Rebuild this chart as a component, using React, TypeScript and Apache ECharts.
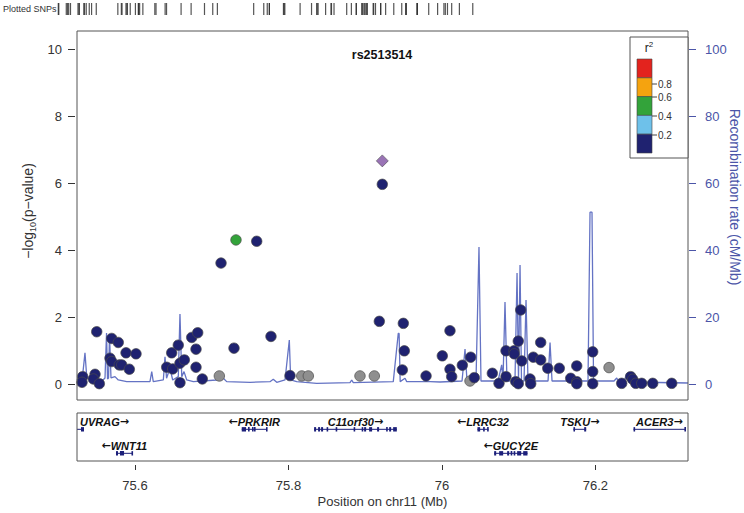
import React, { useEffect, useRef } from "react";
import * as echarts from "echarts";

const FONT = '"Liberation Sans", Arial, Helvetica, sans-serif';
const X_MIN = 75.5244;
const X_MAX = 76.3207;
const X_TICKS = [75.6, 75.8, 76.0, 76.2];
const Y_TICKS_MAX = 10;
const RECOMB_MAX = 100;
const TITLE = "rs2513514";

// SNP positions (Mb), -log10(p) and r2 (null = no LD info)
const SNP_POS = [
  75.5318, 75.5309, 75.5501, 75.5479, 75.5457, 75.5535, 75.5696, 75.5782, 75.5674, 75.5696,
  75.5795, 75.5827, 75.5883, 75.6013, 75.5926, 75.6478, 75.6564, 75.6413, 75.6491, 75.6586,
  75.6643, 75.6586, 75.6739, 75.6817, 75.6795, 75.6795, 75.6877, 75.7099, 75.7121, 75.7316,
  75.729, 75.7586, 75.7772, 75.802, 75.8173, 75.8259, 75.8932, 75.9119, 75.9223, 75.9184,
  75.9497, 75.951, 75.9484, 75.9793, 76.0105, 76.0005, 76.0105, 76.0127, 76.0266, 76.0375,
  76.0366, 76.0422, 76.0657, 76.0744, 76.0835, 76.0835, 76.0939, 76.0943, 76.0995, 76.1027,
  76.104, 76.0962, 76.0995, 76.1148, 76.1157, 76.1191, 76.1287, 76.1287, 76.1379, 76.153,
  76.1678, 76.1757, 76.1757, 76.1757, 76.1965, 76.1965, 76.1965, 76.2178, 76.2343, 76.246,
  76.2486, 76.2526, 76.2604, 76.2747, 76.2995,
];
const SNP_LOGP = [
  0.22, 0.05, 1.56, 0.29, 0.15, 0.01, 1.36, 1.24, 0.77, 0.67,
  0.57, 0.57, 0.93, 0.9, 0.44, 0.93, 1.16, 0.5, 0.45, 0.62,
  0.72, 0.04, 1.39, 1.53, 1.04, 0.5, 0.15, 0.24, 3.61, 4.3,
  1.07, 4.26, 1.42, 0.25, 0.24, 0.24, 0.24, 0.24, 5.96, 1.87,
  1.81, 0.99, 0.42, 0.24, 1.59, 0.84, 0.44, 0.22, 0.56, 0.8,
  0.09, 0.19, 0.32, 0.02, 0.22, 0.99, 0.99, 0.9, 1.28, 2.21,
  0.69, 0.07, 0.01, 0.15, 0.01, 0.8, 1.24, 0.72, 0.47, 0.47,
  0.17, 0.54, 0.07, 0.01, 0.96, 0.37, 0.01, 0.49, 0.02, 0.22,
  0.14, 0.02, 0.02, 0.02, 0.02,
];
const SNP_R2: (number | null)[] = [
  0.05, 0.05, 0.05, 0.05, 0.05, 0.05, 0.05, 0.05, 0.05, 0.05,
  0.05, 0.05, 0.05, 0.05, 0.05, 0.05, 0.05, 0.05, 0.05, 0.05,
  0.05, 0.05, 0.05, 0.05, 0.05, 0.05, 0.05, null, 0.05, 0.5,
  0.05, 0.05, 0.05, 0.05, null, null, null, null, 0.05, 0.05,
  0.05, 0.05, 0.05, 0.05, 0.05, 0.05, 0.05, 0.05, 0.05, 0.05,
  null, 0.05, 0.05, 0.05, 0.05, 0.05, 0.05, 0.05, 0.05, 0.05,
  0.05, 0.05, 0.05, 0.05, 0.05, 0.05, 0.05, 0.05, 0.05, 0.05,
  0.05, 0.05, 0.05, 0.05, 0.05, 0.05, 0.05, null, 0.05, 0.05,
  0.05, 0.05, 0.05, 0.05, 0.05,
];
const LEAD_POS = 75.9223;
const LEAD_LOGP = 6.66;

// recombination rate (cM/Mb)
const RECOMB_POS = [
  75.5244, 75.5283, 75.5322, 75.5348, 75.5371, 75.5414, 75.5479, 75.5583, 75.5609, 75.5629,
  75.5642, 75.5655, 75.5668, 75.5687, 75.5739, 75.5782, 75.5892, 75.6195, 75.6218, 75.6238,
  75.6369, 75.6391, 75.6411, 75.6456, 75.6491, 75.6564, 75.6586, 75.6609, 75.6639, 75.6674,
  75.676, 75.7065, 75.7151, 75.7195, 75.7499, 75.7759, 75.7802, 75.7847, 75.7955, 75.8011,
  75.8029, 75.8107, 75.8368, 75.8802, 75.8824, 75.8845, 75.9366, 75.9431, 75.9442, 75.9456,
  75.9519, 75.9541, 75.9845, 75.9975, 76.0262, 76.0301, 76.0327, 76.0444, 76.0483, 76.0509,
  76.0731, 76.0779, 76.0796, 76.0822, 76.0848, 76.0952, 76.0979, 76.0998, 76.1018, 76.1037,
  76.107, 76.1096, 76.1122, 76.1383, 76.1409, 76.1435, 76.1904, 76.193, 76.1956, 76.1976,
  76.2243, 76.2278, 76.2308, 76.2373, 76.2408, 76.2438, 76.3207,
];
const RECOMB_RATE = [
  1.2, 2.4, 3.6, 9.3, 2.1, 1.2, 0.7, 1.2, 1.8, 15.2,
  1.5, 1.8, 14.6, 1.8, 2.2, 1.2, 0.7, 0.7, 3.7, 0.7,
  1.2, 8.1, 1.7, 4.7, 1.2, 2.2, 20.9, 2.2, 3.7, 1.2,
  0.7, 1.2, 1.7, 0.7, 0.5, 0.7, 1.4, 0.5, 1.2, 13.1,
  1.2, 0.7, 0.2, 0.4, 1.2, 0.4, 0.7, 15.1, 15.1, 0.7,
  1.7, 0.7, 0.7, 0.6, 0.9, 10.4, 0.9, 0.9, 40.9, 0.9,
  0.9, 5.7, 0.9, 24.5, 0.9, 0.9, 33.1, 0.9, 35.5, 0.9,
  0.9, 25.1, 0.9, 0.9, 12.4, 0.9, 0.9, 51.3, 51.3, 0.9,
  0.9, 1.8, 0.6, 0.6, 3.2, 0.6, 0.3,
];

// genes
const GENE_NAMES = ["UVRAG", "WNT11", "PRKRIR", "C11orf30", "LRRC32", "GUCY2E", "TSKU", "ACER3"];
const GENE_START = [75.5, 75.5752, 75.7391, 75.8334, 76.0463, 76.0681, 76.1714, 76.2497];
const GENE_END = [75.5335, 75.597, 75.7716, 75.9412, 76.0606, 76.1115, 76.188, 76.3171];
const GENE_STRAND = [1, -1, -1, 1, -1, -1, 1, 1];
const GENE_ROW = [1, 2, 1, 1, 1, 2, 1, 1];
const GENE_EXONS: number[][][] = [
  [[75.5296, 75.5335]],
  [[75.5752, 75.5778], [75.5804, 75.5857], [75.5954, 75.597]],
  [[75.7391, 75.7447], [75.7473, 75.7486], [75.7525, 75.7538], [75.7551, 75.7564], [75.7707, 75.7716]],
  [[75.8334, 75.836], [75.8386, 75.8412], [75.8425, 75.8451], [75.8497, 75.8509], [75.8615, 75.8627],
   [75.8849, 75.8861], [75.8954, 75.8966], [75.8986, 75.9012], [75.9051, 75.909], [75.9155, 75.9181],
   [75.9273, 75.9286], [75.9312, 75.9338], [75.9364, 75.9412]],
  [[76.0463, 76.0498], [76.0537, 76.055], [76.0589, 76.0606]],
  [[76.0681, 76.0707], [76.0746, 76.0798], [76.085, 76.0876], [76.0896, 76.0906], [76.0935, 76.0945],
   [76.098, 76.1033], [76.1059, 76.1115]],
  [[76.1714, 76.1727], [76.1854, 76.188]],
  [[76.2497, 76.2505], [76.316, 76.3171]],
];

const R2_LABELS = ["0.8", "0.6", "0.4", "0.2"];
const R2_COLORS = ["#1f2270", "#6ec1ea", "#33a33a", "#f5a30f", "#e3231e"]; // low -> high
const NA_COLOR = "#8f8f8f";
const LEAD_COLOR = "#7f50a3";
const RECOMB_COLOR = "#6473c4";
const RIGHT_AXIS_COLOR = "#4b55a8";
const GENE_COLOR = "#1c1f7a";

function r2Color(r: number | null) {
  if (r === null) return NA_COLOR;
  if (r >= 0.8) return R2_COLORS[4];
  if (r >= 0.6) return R2_COLORS[3];
  if (r >= 0.4) return R2_COLORS[2];
  if (r >= 0.2) return R2_COLORS[1];
  return R2_COLORS[0];
}

function buildOption() {
  const snpData = SNP_POS.map((p, i) => ({
    value: [p, SNP_LOGP[i]],
    itemStyle: { color: r2Color(SNP_R2[i]) },
  }));
  const rugData = SNP_POS.concat([LEAD_POS]).map((p) => [p, 0.5]);
  const recombData = RECOMB_POS.map((p, i) => [p, RECOMB_RATE[i]]);
  const geneData = GENE_NAMES.map((n, i) => [GENE_START[i], GENE_END[i], GENE_ROW[i], GENE_STRAND[i], i]);

  // legend graphics
  const lgX = 630, lgY = 37, lgW = 58, lgH = 121;
  const barX = 637, barW = 15, barTop = 59, barBottom = 153;
  const bh = (barBottom - barTop) / 5;
  const legend: any[] = [
    { type: "rect", z: 100, shape: { x: lgX, y: lgY, width: lgW, height: lgH }, style: { fill: "#fff", stroke: "#555", lineWidth: 1 } },
    { type: "text", z: 101, x: 649, y: 48, style: { text: "{a|r}{b|2}", rich: { a: { fontSize: 12, fontFamily: FONT, fill: "#222", lineHeight: 15 }, b: { fontSize: 8, fontFamily: FONT, fill: "#222", verticalAlign: "top", lineHeight: 8 } }, align: "center", verticalAlign: "middle" } },
  ];
  for (let k = 0; k < 5; k++) {
    legend.push({
      type: "rect", z: 101,
      shape: { x: barX, y: barTop + k * bh, width: barW, height: bh },
      style: { fill: R2_COLORS[4 - k], stroke: "#444", lineWidth: 0.6 },
    });
  }
  const labelYs = [84, 97, 116, 135];
  R2_LABELS.forEach((t, k) => {
    legend.push({ type: "line", z: 101, shape: { x1: barX + barW, y1: labelYs[k], x2: barX + barW + 5, y2: labelYs[k] }, style: { stroke: "#444", lineWidth: 1 } });
    legend.push({ type: "text", z: 101, x: barX + barW + 6, y: labelYs[k], style: { text: t, fontSize: 10, lineHeight: 11, fontFamily: FONT, fill: "#333", align: "left", verticalAlign: "middle" } });
  });

  return {
    animation: false,
    backgroundColor: "#fff",
    textStyle: { fontFamily: FONT },
    grid: [
      { left: 77, top: 49, width: 611, height: 335 },
      { left: 77, top: 413, width: 611, height: 48 },
      { left: 54.8, top: 3, width: 429.4, height: 12 },
    ],
    xAxis: [
      { gridIndex: 0, type: "value", min: X_MIN, max: X_MAX, show: false },
      {
        gridIndex: 1, type: "value", min: X_MIN, max: X_MAX, position: "bottom", offset: 4,
        axisLine: { show: false },
        axisTick: { show: true, length: 5, customValues: X_TICKS, lineStyle: { color: "#333" } },
        axisLabel: { show: true, customValues: X_TICKS, margin: 14, fontSize: 13, color: "#333", fontFamily: FONT },
        splitLine: { show: false },
        name: "Position on chr11 (Mb)", nameLocation: "middle", nameGap: 30,
        nameTextStyle: { fontSize: 13, color: "#333", fontFamily: FONT },
      },
      { gridIndex: 2, type: "value", min: X_MIN, max: X_MAX, show: false },
    ],
    yAxis: [
      {
        gridIndex: 0, type: "value", min: 0, max: Y_TICKS_MAX, interval: 2, position: "left", offset: 2,
        axisLine: { show: false },
        axisTick: { show: true, length: 7, lineStyle: { color: "#333" } },
        axisLabel: { margin: 13, fontSize: 13, color: "#333", fontFamily: FONT },
        splitLine: { show: false },
      },
      {
        gridIndex: 0, type: "value", min: 0, max: RECOMB_MAX, interval: 20, position: "right", offset: 1,
        axisLine: { show: false },
        axisTick: { show: true, length: 7, lineStyle: { color: RIGHT_AXIS_COLOR } },
        axisLabel: { margin: 16, fontSize: 13, color: RIGHT_AXIS_COLOR, fontFamily: FONT },
        splitLine: { show: false },
      },
      { gridIndex: 1, type: "value", min: 0.32, max: 2.32, inverse: true, show: false },
      { gridIndex: 2, type: "value", min: 0, max: 1, show: false },
    ],
    series: [
      {
        type: "line", xAxisIndex: 0, yAxisIndex: 1, data: recombData, showSymbol: false, z: 1,
        lineStyle: { color: RECOMB_COLOR, width: 1.3 }, silent: true,
      },
      {
        type: "scatter", xAxisIndex: 0, yAxisIndex: 0, data: snpData, symbol: "circle", symbolSize: 10.5,
        clip: false, z: 3, itemStyle: { borderColor: "#4a4a4a", borderWidth: 0.7, opacity: 1 },
      },
      {
        type: "scatter", xAxisIndex: 0, yAxisIndex: 0, data: [[LEAD_POS, LEAD_LOGP]], symbol: "diamond",
        symbolSize: 12, clip: false, z: 4, itemStyle: { color: LEAD_COLOR, borderColor: "#444", borderWidth: 0.7 },
      },
      {
        type: "scatter", xAxisIndex: 2, yAxisIndex: 3, data: rugData, symbol: "rect", symbolSize: [1.2, 12],
        itemStyle: { color: "#2a2a2a" }, silent: true,
      },
      {
        type: "custom", xAxisIndex: 1, yAxisIndex: 2, data: geneData, clip: false, silent: true,
        renderItem: (params: any, api: any) => {
          const s = api.value(0), e = api.value(1), row = api.value(2), strand = api.value(3), gi = api.value(4);
          const cs = params.coordSys;
          const a = api.coord([Math.max(s, X_MIN), row]);
          const b = api.coord([Math.min(e, X_MAX), row]);
          const y = a[1];
          const children: any[] = [
            { type: "line", shape: { x1: a[0], y1: y, x2: b[0], y2: y }, style: { stroke: GENE_COLOR, lineWidth: 1 } },
          ];
          GENE_EXONS[gi].forEach((ex) => {
            const p0 = api.coord([Math.max(ex[0], X_MIN), row]);
            const p1 = api.coord([Math.min(ex[1], X_MAX), row]);
            const w = Math.max(1.6, p1[0] - p0[0]);
            children.push({ type: "rect", shape: { x: p0[0], y: y - 2.2, width: w, height: 4.4 }, style: { fill: GENE_COLOR } });
          });
          const name = GENE_NAMES[gi];
          const label = strand > 0 ? "{n|" + name + "}{a|\u2192}" : "{a|\u2190}{n|" + name + "}";
          const estW = name.length * 7.4 + 12;
          let cx = (a[0] + b[0]) / 2;
          const lo = cs.x + 3 + estW / 2;
          const hi = cs.x + cs.width - 2 - estW / 2;
          if (cx < lo) cx = lo;
          if (cx > hi) cx = hi;
          children.push({
            type: "text",
            style: {
              x: cx, y: y - 7.8, text: label,
              rich: {
                n: { fontFamily: FONT, fontSize: 11, fontWeight: "bold", fontStyle: "italic", fill: "#111" },
                a: { fontFamily: '"DejaVu Sans", sans-serif', fontSize: 11, fontWeight: "bold", fill: "#111" },
              },
              align: "center", verticalAlign: "middle",
            },
          });
          return { type: "group", children };
        },
      },
    ],
    graphic: [
      { type: "rect", z: 50, shape: { x: 77, y: 31, width: 611, height: 369 }, style: { fill: "none", stroke: "#555", lineWidth: 1 } },
      { type: "rect", z: 50, shape: { x: 77, y: 413, width: 611, height: 48 }, style: { fill: "none", stroke: "#555", lineWidth: 1 } },
      { type: "text", z: 60, x: 382, y: 55, style: { text: TITLE, fontSize: 12.5, fontWeight: "bold", fontFamily: FONT, fill: "#111", align: "center", verticalAlign: "middle" } },
      { type: "text", z: 60, x: 3, y: 9, style: { text: "Plotted SNPs", fontSize: 9, fontFamily: FONT, fill: "#333", align: "left", verticalAlign: "middle" } },
      {
        type: "text", z: 60, x: 28, y: 211, rotation: Math.PI / 2,
        style: {
          text: "{a|\u2212log}{b|10}{a|(p\u2212value)}",
          rich: {
            a: { fontSize: 14, fontFamily: FONT, fill: "#333", lineHeight: 18 },
            b: { fontSize: 9, fontFamily: FONT, fill: "#333", verticalAlign: "bottom", lineHeight: 10 },
          },
          align: "center", verticalAlign: "middle",
        },
      },
      {
        type: "text", z: 60, x: 735, y: 197, rotation: -Math.PI / 2,
        style: { text: "Recombination rate (cM/Mb)", fontSize: 14, fontFamily: FONT, fill: RIGHT_AXIS_COLOR, align: "center", verticalAlign: "middle" },
      },
      ...legend,
    ],
  };
}

export default function App() {
  const ref = useRef<HTMLDivElement>(null);
  useEffect(() => {
    const chart = echarts.init(ref.current as HTMLDivElement, null, { renderer: "svg" });
    chart.setOption(buildOption() as any);
    return () => chart.dispose();
  }, []);
  return <div ref={ref} style={{ position: "fixed", left: 0, top: 0, width: 744, height: 513 }} />;
}
